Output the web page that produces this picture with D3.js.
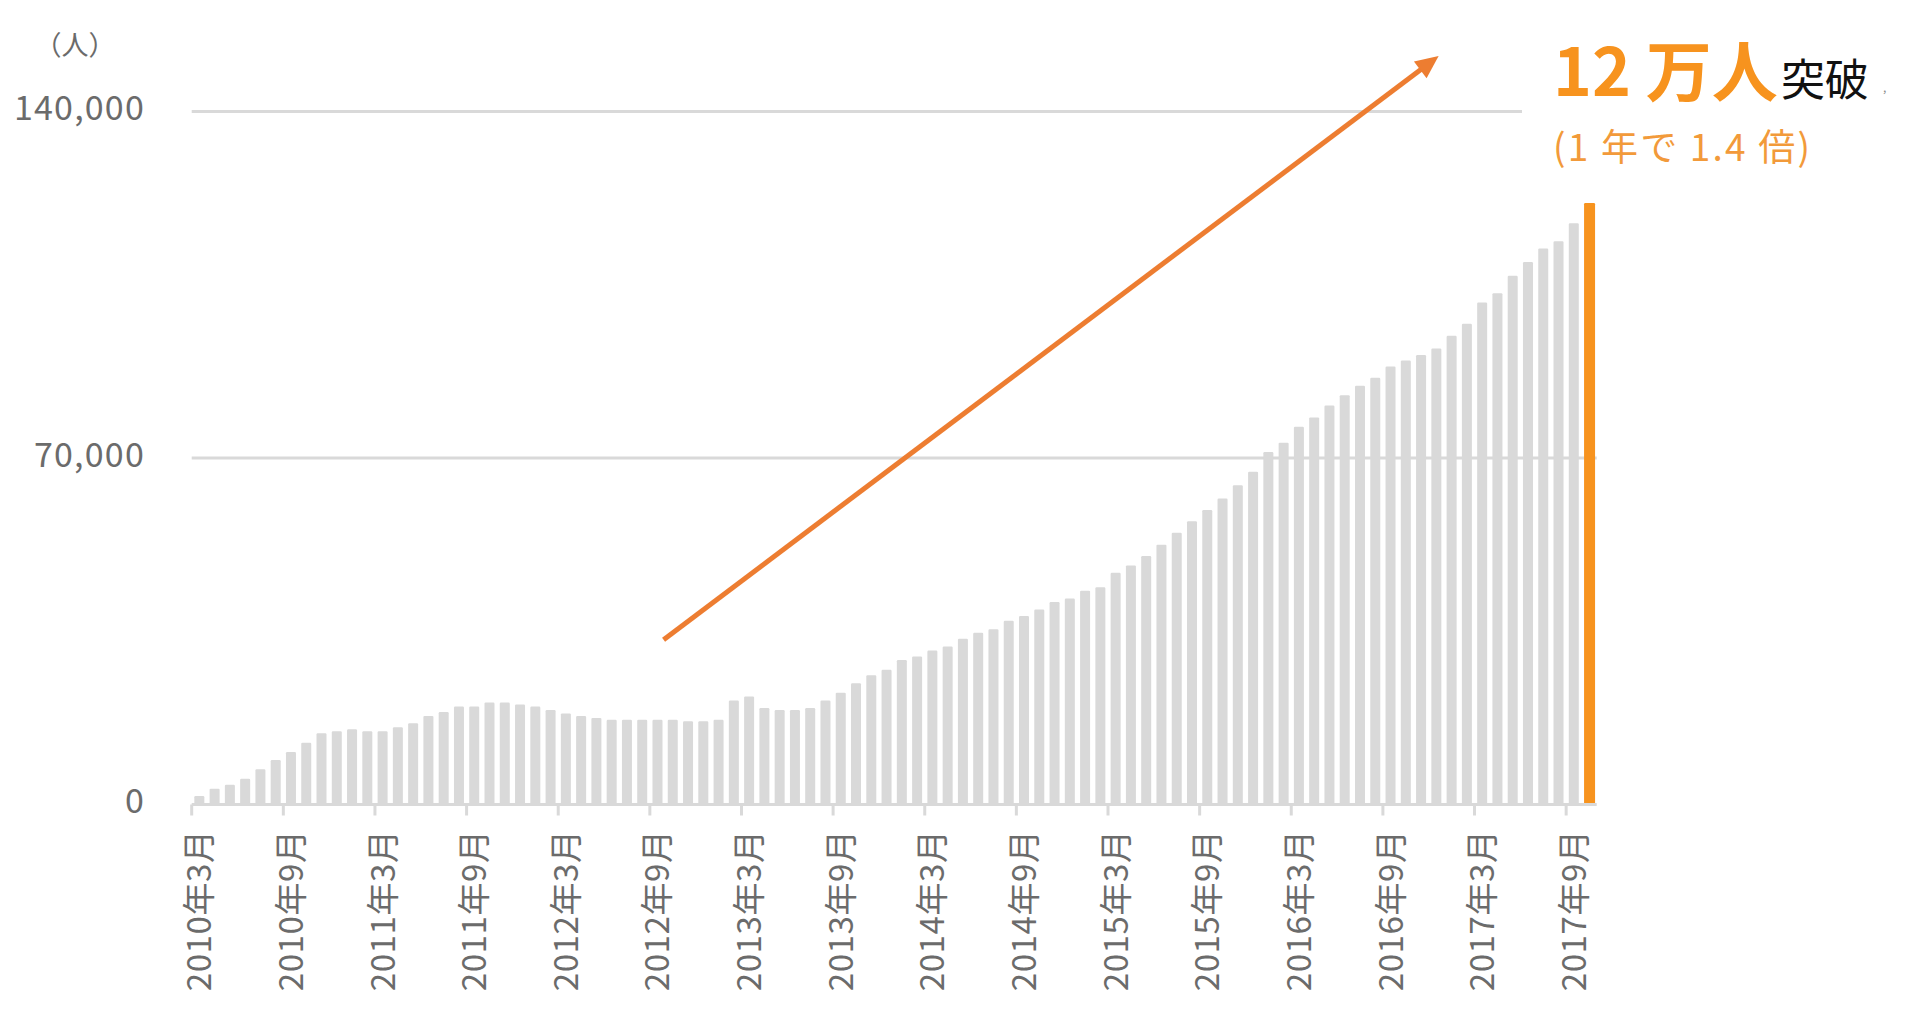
<!DOCTYPE html>
<html>
<head>
<meta charset="utf-8">
<script src="https://cdn.jsdelivr.net/npm/d3@7"></script>
<style>
  html, body { margin: 0; padding: 0; background: #fff; }
  svg { display: block; }
  text { font-family: "Noto Sans CJK JP", "Noto Sans", sans-serif; }
</style>
</head>
<body>
<svg id="chart" width="1920" height="1012"></svg>
<script>
// ---- data ----
// monthly categories 2010年3月 .. 2017年10月
const months = [
  "2010-03","2010-04","2010-05","2010-06","2010-07","2010-08","2010-09","2010-10","2010-11","2010-12",
  "2011-01","2011-02","2011-03","2011-04","2011-05","2011-06","2011-07","2011-08","2011-09","2011-10","2011-11","2011-12",
  "2012-01","2012-02","2012-03","2012-04","2012-05","2012-06","2012-07","2012-08","2012-09","2012-10","2012-11","2012-12",
  "2013-01","2013-02","2013-03","2013-04","2013-05","2013-06","2013-07","2013-08","2013-09","2013-10","2013-11","2013-12",
  "2014-01","2014-02","2014-03","2014-04","2014-05","2014-06","2014-07","2014-08","2014-09","2014-10","2014-11","2014-12",
  "2015-01","2015-02","2015-03","2015-04","2015-05","2015-06","2015-07","2015-08","2015-09","2015-10","2015-11","2015-12",
  "2016-01","2016-02","2016-03","2016-04","2016-05","2016-06","2016-07","2016-08","2016-09","2016-10","2016-11","2016-12",
  "2017-01","2017-02","2017-03","2017-04","2017-05","2017-06","2017-07","2017-08","2017-09","2017-10"
];
const values = [
  1700, 3200, 4000, 5200, 7100, 9000, 10600, 12500, 14400, 14800,
  15200, 14800, 14800, 15600, 16400, 17900, 18700, 19800, 19800, 20600, 20600, 20200,
  19800, 19100, 18400, 17900, 17500, 17100, 17100, 17100, 17100, 17100, 16800, 16800,
  17100, 21000, 21800, 19500, 19100, 19100, 19500, 21000, 22600, 24500, 26100, 27200,
  29200, 29900, 31100, 31900, 33500, 34700, 35400, 37100, 38100, 39400, 40900, 41600,
  43200, 43900, 46800, 48300, 50200, 52500, 54900, 57200, 59500, 61800, 64500, 67200,
  71200, 73100, 76300, 78200, 80600, 82700, 84600, 86200, 88500, 89700, 90800, 92100,
  94700, 97100, 101400, 103300, 106800, 109600, 112300, 113800, 117400, 121500
];
const highlightMonth = "2017-10";
const yTicks = [0, 70000, 140000];
const tickLabels = [
  "2010年3月","2010年9月","2011年3月","2011年9月","2012年3月","2012年9月","2013年3月","2013年9月",
  "2014年3月","2014年9月","2015年3月","2015年9月","2016年3月","2016年9月","2017年3月","2017年9月"
];
const tickEvery = 6;
const unitLabel = "（人）";
const headline = ["12 万人", "突破"];
const subline = "(1 年で 1.4 倍)";
// arrow annotation in data space (category position, value)
const arrowFrom = { pos: 30.9, value: 33300 };
const arrowTo = { pos: 81.65, value: 151200 };

// ---- layout ----
const plot = { left: 191.7, right: 1596.7, top: 111.5, bottom: 804.5 };
const svg = d3.select("#chart");

const x = d3.scaleBand()
  .domain(months)
  .range([plot.left, plot.right])
  .paddingInner(0.345)
  .paddingOuter(0.1725);

const y = d3.scaleLinear()
  .domain([0, 140000])
  .range([plot.bottom, plot.top]);

const step = x.step();
const posToX = p => plot.left + p * step;

const GRID = "#d9d9d9";
const LABEL = "#6b6b6b";

// gridlines (non-zero)
svg.append("g").selectAll("line")
  .data(yTicks.filter(d => d > 0))
  .join("line")
  .attr("x1", plot.left)
  .attr("x2", plot.right)
  .attr("y1", d => y(d))
  .attr("y2", d => y(d))
  .attr("stroke", GRID)
  .attr("stroke-width", 3);

// bars
svg.append("g").selectAll("rect")
  .data(months.map((m, i) => ({ m, v: values[i] })))
  .join("rect")
  .attr("x", d => x(d.m))
  .attr("width", d => x.bandwidth() + (d.m === highlightMonth ? 1 : 0))
  .attr("y", d => y(d.v))
  .attr("height", d => y(0) - y(d.v))
  .attr("rx", 1.2)
  .attr("fill", d => d.m === highlightMonth ? "#f7931e" : "#d9d9d9");

// x axis line
svg.append("line")
  .attr("x1", plot.left).attr("x2", plot.right)
  .attr("y1", y(0)).attr("y2", y(0))
  .attr("stroke", GRID).attr("stroke-width", 3);

// tick marks at category boundaries every 6 months
const tickIdx = d3.range(0, months.length, tickEvery);
svg.append("g").selectAll("line")
  .data(tickIdx)
  .join("line")
  .attr("x1", i => x(months[i]) - step * x.paddingOuter())
  .attr("x2", i => x(months[i]) - step * x.paddingOuter())
  .attr("y1", y(0))
  .attr("y2", y(0) + 11)
  .attr("stroke", GRID)
  .attr("stroke-width", 3);

// x tick labels (rotated)
svg.append("g").selectAll("text")
  .data(tickIdx)
  .join("text")
  .attr("transform", (i) => {
    const cx = x(months[i]) + x.bandwidth() / 2 - 2;
    return `translate(${cx},${y(0) + 25}) rotate(-90)`;
  })
  .attr("text-anchor", "end")
  .attr("dominant-baseline", "central")
  .attr("font-size", 33)
  .attr("letter-spacing", 0.6)
  .attr("fill", LABEL)
  .text((i, k) => tickLabels[k]);

// y labels
svg.append("g").selectAll("text")
  .data(yTicks)
  .join("text")
  .attr("x", 145)
  .attr("y", d => y(d) - 6)
  .attr("text-anchor", "end")
  .attr("dominant-baseline", "central")
  .attr("font-size", 34)
  .attr("letter-spacing", 1.2)
  .attr("fill", LABEL)
  .text(d => d3.format(",")(d));

// unit label
svg.append("text")
  .attr("x", 75).attr("y", 43)
  .attr("text-anchor", "middle")
  .attr("dominant-baseline", "central")
  .attr("font-size", 27)
  .attr("fill", LABEL)
  .text(unitLabel);

// arrow
const ax1 = posToX(arrowFrom.pos), ay1 = y(arrowFrom.value);
const ax2 = posToX(arrowTo.pos), ay2 = y(arrowTo.value);
const dx = ax2 - ax1, dy = ay2 - ay1, L = Math.hypot(dx, dy);
const ux = dx / L, uy = dy / L, px = -uy, py = ux;
const headLen = 23, headHalf = 10.5;
const bx = ax2 - ux * headLen, by = ay2 - uy * headLen;
const ARROW = "#ed7d31";
svg.append("line")
  .attr("x1", ax1).attr("y1", ay1)
  .attr("x2", bx + ux * 2).attr("y2", by + uy * 2)
  .attr("stroke", ARROW).attr("stroke-width", 5);
svg.append("path")
  .attr("d", `M${ax2},${ay2} L${bx + px * headHalf},${by + py * headHalf} L${bx - px * headHalf},${by - py * headHalf} Z`)
  .attr("fill", ARROW);

// annotation box (covers gridline like the original text box)
svg.append("rect")
  .attr("x", 1522).attr("y", 25).attr("width", 398).attr("height", 150)
  .attr("fill", "#fff");

const head = svg.append("text").attr("x", 1553).attr("y", 96);
head.append("tspan")
  .attr("font-size", 66).attr("font-weight", 700).attr("fill", "#f7931e")
  .text(headline[0]);
head.append("tspan")
  .attr("font-size", 44).attr("fill", "#111").attr("dx", 3)
  .text(headline[1]);

svg.append("text")
  .attr("x", 1883).attr("y", 92)
  .attr("font-size", 12).attr("fill", "#888")
  .text(",");

svg.append("text")
  .attr("x", 1553).attr("y", 161)
  .attr("font-size", 37).attr("letter-spacing", 2.2).attr("fill", "#f29a3a")
  .text(subline);
</script>
</body>
</html>
